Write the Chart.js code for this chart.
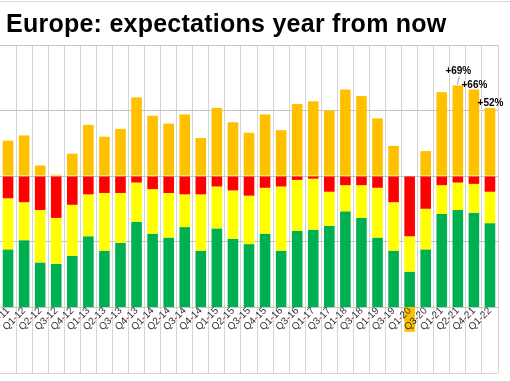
<!DOCTYPE html>
<html><head><meta charset="utf-8">
<script src="https://cdn.jsdelivr.net/npm/chart.js@4/dist/chart.umd.min.js"></script>
<style>
html,body{margin:0;padding:0;background:#fff;}
#wrap{position:relative;width:510px;height:382px;overflow:hidden;background:#fff;}
canvas{position:absolute;left:0;top:0;}
#title{position:absolute;left:6px;top:11px;font:bold 25px "Liberation Sans",Arial,sans-serif;line-height:24px;letter-spacing:0.25px;color:#000;white-space:nowrap;}
#topline{position:absolute;left:0;top:1px;width:510px;height:1px;background:#d9d9d9;}
#botline{position:absolute;left:0;top:381px;width:510px;height:1px;background:#d9d9d9;}
</style></head><body>
<div id="wrap">
<canvas id="c" width="510" height="382"></canvas>
<div id="title">Europe: expectations year from now</div>
<div id="topline"></div><div id="botline"></div>
</div>
<script>
const categories = ['Q4-11','Q1-12','Q2-12','Q3-12','Q4-12','Q1-13','Q2-13','Q3-13','Q4-13','Q1-14','Q2-14','Q3-14','Q4-14','Q1-15','Q2-15','Q3-15','Q4-15','Q1-16','Q3-16','Q1-17','Q3-17','Q1-18','Q3-18','Q1-19','Q3-19','Q1-20','Q3-20','Q1-21','Q2-21','Q4-21','Q1-22'];
const worse  = [17,20,26,32,22,14,13,13, 5,10,13,14,14, 8,11,15, 9, 8, 3, 2,12, 7, 7, 9,20,46,25, 7, 5, 6,12];
const same   = [39,29,40,35,39,32,44,38,30,34,34,25,43,32,37,37,35,49,39,39,26,20,25,38,37,27,31,22,21,22,24];
const better = [44,51,34,33,39,54,43,49,65,56,53,61,43,60,52,48,56,43,58,59,62,73,68,53,43,27,44,71,74,72,64];
const net    = [27,31, 8, 1,17,39,30,36,60,46,40,47,29,52,41,33,47,35,55,57,50,66,61,44,23,-19,19,64,69,66,52];
const netLabels = [null,null,null,null,null,null,null,null,null,null,null,null,null,null,null,null,null,null,null,null,null,null,null,null,null,null,null,null,'+69%','+66%','+52%'];

const FONT = '"Liberation Sans", Arial, sans-serif';

const netLabelPlugin = {
  id: 'netLabels',
  afterDatasetsDraw(chart) {
    const meta = chart.getDatasetMeta(3);
    const ctx = chart.ctx;
    const a = chart.chartArea;
    // category labels stay visible on top of any bar running below the plot
    meta.data.forEach(bar => {
      const bottom = Math.max(bar.y, bar.base);
      if (bottom > a.bottom + 0.5) {
        ctx.save();
        ctx.beginPath();
        ctx.rect(bar.x - bar.width / 2 - 1, a.bottom + 0.5, bar.width + 2, bottom - a.bottom + 1);
        ctx.clip();
        chart.scales.x.drawLabels(a);
        ctx.restore();
      }
    });
    const lifts = {28: 10};
    ctx.save();
    ctx.font = 'bold 10px ' + FONT;
    ctx.fillStyle = '#000';
    ctx.textAlign = 'center';
    ctx.textBaseline = 'alphabetic';
    netLabels.forEach((t, i) => {
      if (!t) return;
      const bar = meta.data[i];
      const lift = lifts[i] || 0;
      const x = bar.x + 0.5;
      const y = bar.y - 2 - lift;
      ctx.fillText(t, x, y);
      if (lift) {
        ctx.strokeStyle = '#8c8c8c';
        ctx.lineWidth = 0.8;
        ctx.beginPath();
        ctx.moveTo(x + 1, y + 3);
        ctx.lineTo(bar.x - 0.5, bar.y - 1);
        ctx.stroke();
      }
    });
    ctx.restore();
  }
};

const axisBoxPlugin = {
  id: 'axisBox',
  afterDraw(chart) {
    const a = chart.chartArea;
    const ctx = chart.ctx;
    const tl = chart.options.scales.x.grid.tickLength;
    ctx.save();
    ctx.strokeStyle = '#d4d4d4';
    ctx.lineWidth = 1;
    ctx.beginPath();
    ctx.moveTo(a.left, Math.round(a.bottom + tl) + 0.5);
    ctx.lineTo(a.right, Math.round(a.bottom + tl) + 0.5);
    ctx.stroke();
    ctx.restore();
  }
};

new Chart(document.getElementById('c'), {
  type: 'bar',
  data: {
    labels: categories,
    datasets: [
      {label: 'Worse',  data: worse.map(v => -v),  backgroundColor: '#FF0000'},
      {label: 'Same',   data: same.map(v => -v),   backgroundColor: '#FFFF00'},
      {label: 'Better', data: better.map(v => -v), backgroundColor: '#00B050'},
      {label: 'Net',    data: net,                 backgroundColor: '#FFC000'}
    ]
  },
  options: {
    responsive: false,
    animation: false,
    layout: {padding: {left: 0, right: 12, top: 45, bottom: 0}},
    plugins: {legend: {display: false}, tooltip: {enabled: false}, title: {display: false}},
    datasets: {bar: {barPercentage: 0.66, categoryPercentage: 1, clip: false, borderWidth: 0}},
    scales: {
      x: {
        stacked: true,
        grid: {color: '#d4d4d4', offset: true, tickLength: 66, tickColor: '#d4d4d4'},
        border: {display: false},
        ticks: {autoSkip: false, maxRotation: 45, minRotation: 45, padding: -68, color: '#333',
                font: {family: FONT, size: 10}},
        afterFit(s) { s.height = 75; s.paddingLeft = 0; s.paddingRight = 0; }
      },
      y: {
        stacked: true, min: -100, max: 100,
        ticks: {display: false, stepSize: 50},
        grid: {color: '#c4c4c4', drawTicks: false},
        border: {display: false},
        afterFit(s) { s.width = 0; s.paddingTop = 0; s.paddingBottom = 0; }
      }
    }
  },
  plugins: [netLabelPlugin, axisBoxPlugin]
});
</script>
</body></html>
